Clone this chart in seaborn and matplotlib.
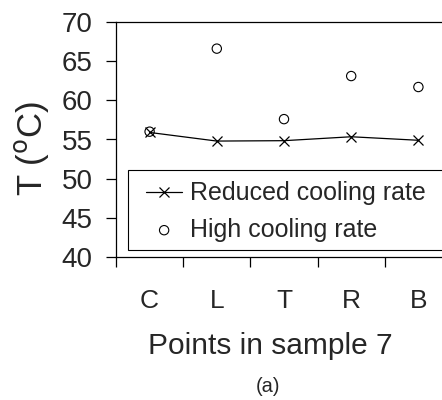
import pandas as pd
import numpy as np
import matplotlib.pyplot as plt
import matplotlib.patches as mpatches
import seaborn as sns

# data
points = ["C", "L", "T", "R", "B"]
reduced_rate = [55.9, 54.8, 54.85, 55.35, 54.9]
high_rate = [56.0, 66.6, 57.6, 63.1, 61.7]

df = pd.DataFrame({"point": points, "reduced": reduced_rate, "high": high_rate})

sns.set_theme(style="white")
plt.rcParams['font.family'] = ['Liberation Sans', 'DejaVu Sans']

fig = plt.figure(figsize=(4.42, 4.0), dpi=100)
# axes box: left 116px, top 22px, bottom 257px, width runs past the right edge
ax = fig.add_axes([116 / 442, (400 - 257) / 400, 336 / 442, 235 / 400])

sns.lineplot(data=df, x="point", y="reduced", ax=ax, color="black", linewidth=0.9,
             marker="x", markersize=7, markeredgewidth=0.9, markeredgecolor="black",
             label="Reduced cooling rate", sort=False)
sns.scatterplot(data=df, x="point", y="high", ax=ax, marker="o", s=45,
                facecolor="none", edgecolor="black", linewidth=0.8,
                label="High cooling rate")

ax.set_xlim(-0.5, 4.5)
ax.set_ylim(40, 70)
ax.set_yticks(np.arange(40, 71, 5))
ax.set_xticks(range(len(points)))
ax.set_xticklabels(points)
ax.set_xticks(np.arange(-0.5, 4.6, 1), minor=True)
ax.tick_params(axis="x", which="major", length=0, pad=23, labelsize=19)
ax.tick_params(axis="x", which="minor", length=7, width=0.9, color="black", direction="out", bottom=True)
ax.tick_params(axis="y", length=7, width=0.9, color="black", direction="out", left=True,
               pad=10, labelsize=20)

for side in ["left", "bottom", "top"]:
    ax.spines[side].set_color("black")
    ax.spines[side].set_linewidth(0.9)
ax.spines["right"].set_visible(False)

ax.set_xlabel("Points in sample 7", fontsize=21.5)
ax.xaxis.set_label_coords((270 - 116) / 336, (257 - 346) / 235)
ax.xaxis.label.set_va("center")
ax.set_ylabel("T ($^{\\rm o}$C)", fontsize=25)
ax.yaxis.set_label_coords((31 - 116) / 336, (257 - 148) / 235)
ax.yaxis.label.set_va("center")

# legend frame drawn separately so the box matches the reference size
box = mpatches.Rectangle((12 / 336, 7 / 235), 1.0, 80 / 235, transform=ax.transAxes,
                         facecolor="white", edgecolor="black", linewidth=0.8,
                         zorder=4, clip_on=False)
ax.add_patch(box)
leg = ax.legend(loc="center left", bbox_to_anchor=((146 - 116) / 336, (257 - 211.5) / 235),
                fontsize=18, frameon=False, handlelength=1.45, handletextpad=0.3,
                borderpad=0, labelspacing=0.5, borderaxespad=0)
leg.set_zorder(5)

fig.text(268 / 442, 1 - 387 / 400, "(a)", ha="center", va="center", fontsize=14.5)

plt.savefig("out.png", dpi=100)
